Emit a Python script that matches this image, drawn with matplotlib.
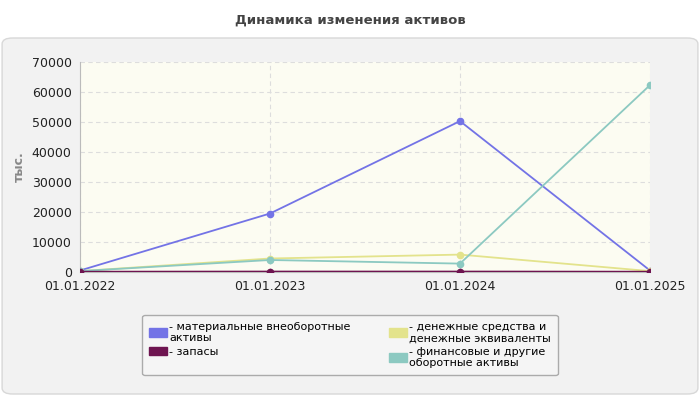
import matplotlib
matplotlib.use("Agg")
import matplotlib.pyplot as plt
from matplotlib.patches import FancyBboxPatch, Patch

dates = ["01.01.2022", "01.01.2023", "01.01.2024", "01.01.2025"]
mat = [500, 19500, 50300, 500]
zap = [100, 150, 150, 100]
den = [300, 4500, 5800, 300]
fin = [300, 4000, 2800, 62300]
names = ["- материальные внеоборотные\nактивы", "- запасы",
         "- денежные средства и\nденежные эквиваленты", "- финансовые и другие\nоборотные активы"]
colors = ["#7373e6", "#6e1450", "#e3e38c", "#8cc9c1"]

fig = plt.figure(figsize=(7, 4), dpi=100)
fig.patches.append(FancyBboxPatch((0.003, 0.015), 0.994, 0.89, boxstyle="round,pad=0,rounding_size=0.015",
                                  transform=fig.transFigure, facecolor="#f2f2f2", edgecolor="#d8d8d8", zorder=-1))
fig.text(0.5, 0.95, "Динамика изменения активов", ha="center", va="center", fontsize=9.5, fontweight="bold", color="#444444")
ax = fig.add_axes([80/700, 1-272/400, 570/700, 210/400])
ax.set_facecolor("#fcfcf2")
x = range(4)
for i in [0, 2, 3, 1]:
    s = [mat, zap, den, fin][i]
    ax.plot(x, s, color=colors[i], lw=1.3, marker="o", ms=4.5, label=names[i], zorder=3 + (i == 1))
ax.set_xlim(0, 3)
ax.set_ylim(0, 70000)
ax.set_yticks(range(0, 70001, 10000))
ax.set_xticks(list(x))
ax.set_xticklabels(dates)
ax.tick_params(labelsize=9, colors="#222222", length=0)
ax.tick_params(axis="y", pad=6)
ax.tick_params(axis="x", pad=6)
ax.grid(True, ls=(0, (4, 3)), color="#dddddd", lw=0.8)
for sp in ["top", "right"]:
    ax.spines[sp].set_visible(False)
for sp in ["left", "bottom"]:
    ax.spines[sp].set_color("#bbbbbb")
ax.set_ylabel("тыс.", color="#888888", fontsize=9, fontweight="bold")
patches = [Patch(facecolor=colors[i], edgecolor=colors[i]) for i in range(4)]
leg = fig.legend(patches, names, loc="center", bbox_to_anchor=(350/700, 1-345/400), ncol=2, fontsize=8,
                 frameon=True, handlelength=1.6, handleheight=0.8, handletextpad=0.2, columnspacing=3.5,
                 labelspacing=0.3, fancybox=True, borderpad=0.6)
leg.get_frame().set_edgecolor("#999999")
leg.get_frame().set_facecolor("#f7f7f7")
fig.savefig("out.png", dpi=100)
